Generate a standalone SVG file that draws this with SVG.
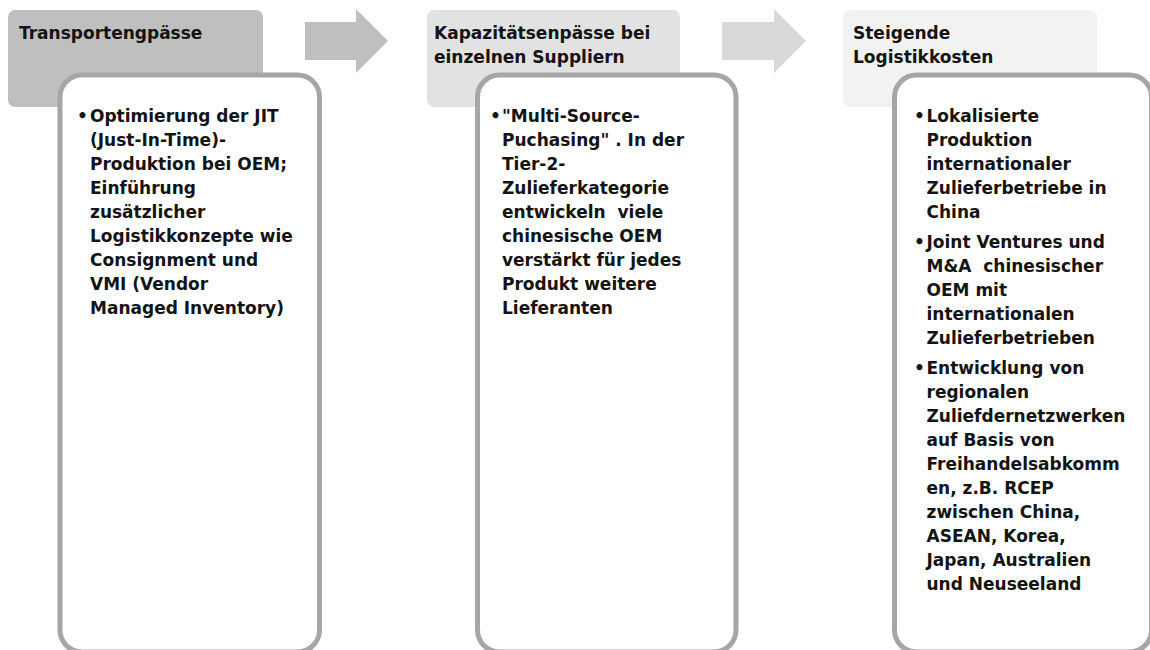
<svg xmlns="http://www.w3.org/2000/svg" width="1150" height="650" viewBox="0 0 1150 650">
<style>
text{font-family:"DejaVu Sans","Liberation Sans",sans-serif;font-weight:bold;font-size:17px;fill:#141414;white-space:pre}
.card{fill:#ffffff;stroke:#a6a6a6;stroke-width:5}
</style>
<rect width="1150" height="650" fill="#ffffff"/>
<g id="connectors">
<path d="M305,22 H356 V9 L388,41 L356,73 V60 H305 Z" fill="#bfbfbf"/>
<path d="M722,22 H774 V9 L806,41 L774,73 V60 H722 Z" fill="#d9d9d9"/>
</g>
<g id="node-1">
<rect x="8" y="10" width="255" height="97" rx="7" fill="#bfbfbf"/>
<text x="19" y="39">Transportengpässe</text>
<rect class="card" x="60" y="75" width="259.5" height="577" rx="22"/>
<text x="77" y="122">•</text>
<text x="90"><tspan x="90" y="122">Optimierung der JIT</tspan><tspan x="90" y="146">(Just-In-Time)-</tspan><tspan x="90" y="170">Produktion bei OEM;</tspan><tspan x="90" y="194">Einführung</tspan><tspan x="90" y="218">zusätzlicher</tspan><tspan x="90" y="242">Logistikkonzepte wie</tspan><tspan x="90" y="266">Consignment und</tspan><tspan x="90" y="290">VMI (Vendor</tspan><tspan x="90" y="314">Managed Inventory)</tspan></text>
</g>
<g id="node-2">
<rect x="427" y="10" width="253" height="97" rx="7" fill="#e2e2e2"/>
<text><tspan x="434" y="39">Kapazitätsenpässe bei</tspan><tspan x="434" y="63">einzelnen Suppliern</tspan></text>
<rect class="card" x="477.5" y="75" width="258.5" height="577" rx="22"/>
<text x="490" y="122">•</text>
<text><tspan x="502" y="122">"Multi-Source-</tspan><tspan x="502" y="146">Puchasing" . In der</tspan><tspan x="502" y="170">Tier-2-</tspan><tspan x="502" y="194">Zulieferkategorie</tspan><tspan x="502" y="218">entwickeln  viele</tspan><tspan x="502" y="242">chinesische OEM</tspan><tspan x="502" y="266">verstärkt für jedes</tspan><tspan x="502" y="290">Produkt weitere</tspan><tspan x="502" y="314">Lieferanten</tspan></text>
</g>
<g id="node-3">
<rect x="843" y="10" width="254" height="97" rx="7" fill="#f2f2f2"/>
<text><tspan x="853" y="39">Steigende</tspan><tspan x="853" y="63">Logistikkosten</tspan></text>
<rect class="card" x="894.5" y="75" width="257" height="577" rx="22"/>
<text x="914" y="122">•</text>
<text><tspan x="926.5" y="122">Lokalisierte</tspan><tspan x="926.5" y="146">Produktion</tspan><tspan x="926.5" y="170">internationaler</tspan><tspan x="926.5" y="194">Zulieferbetriebe in</tspan><tspan x="926.5" y="218">China</tspan></text>
<text x="914" y="248">•</text>
<text><tspan x="926.5" y="248">Joint Ventures und</tspan><tspan x="926.5" y="272">M&amp;A  chinesischer</tspan><tspan x="926.5" y="296">OEM mit</tspan><tspan x="926.5" y="320">internationalen</tspan><tspan x="926.5" y="344">Zulieferbetrieben</tspan></text>
<text x="914" y="374">•</text>
<text><tspan x="926.5" y="374">Entwicklung von</tspan><tspan x="926.5" y="398">regionalen</tspan><tspan x="926.5" y="422">Zuliefdernetzwerken</tspan><tspan x="926.5" y="446">auf Basis von</tspan><tspan x="926.5" y="470">Freihandelsabkomm</tspan><tspan x="926.5" y="494">en, z.B. RCEP</tspan><tspan x="926.5" y="518">zwischen China,</tspan><tspan x="926.5" y="542">ASEAN, Korea,</tspan><tspan x="926.5" y="566">Japan, Australien</tspan><tspan x="926.5" y="590">und Neuseeland</tspan></text>
</g>
</svg>
